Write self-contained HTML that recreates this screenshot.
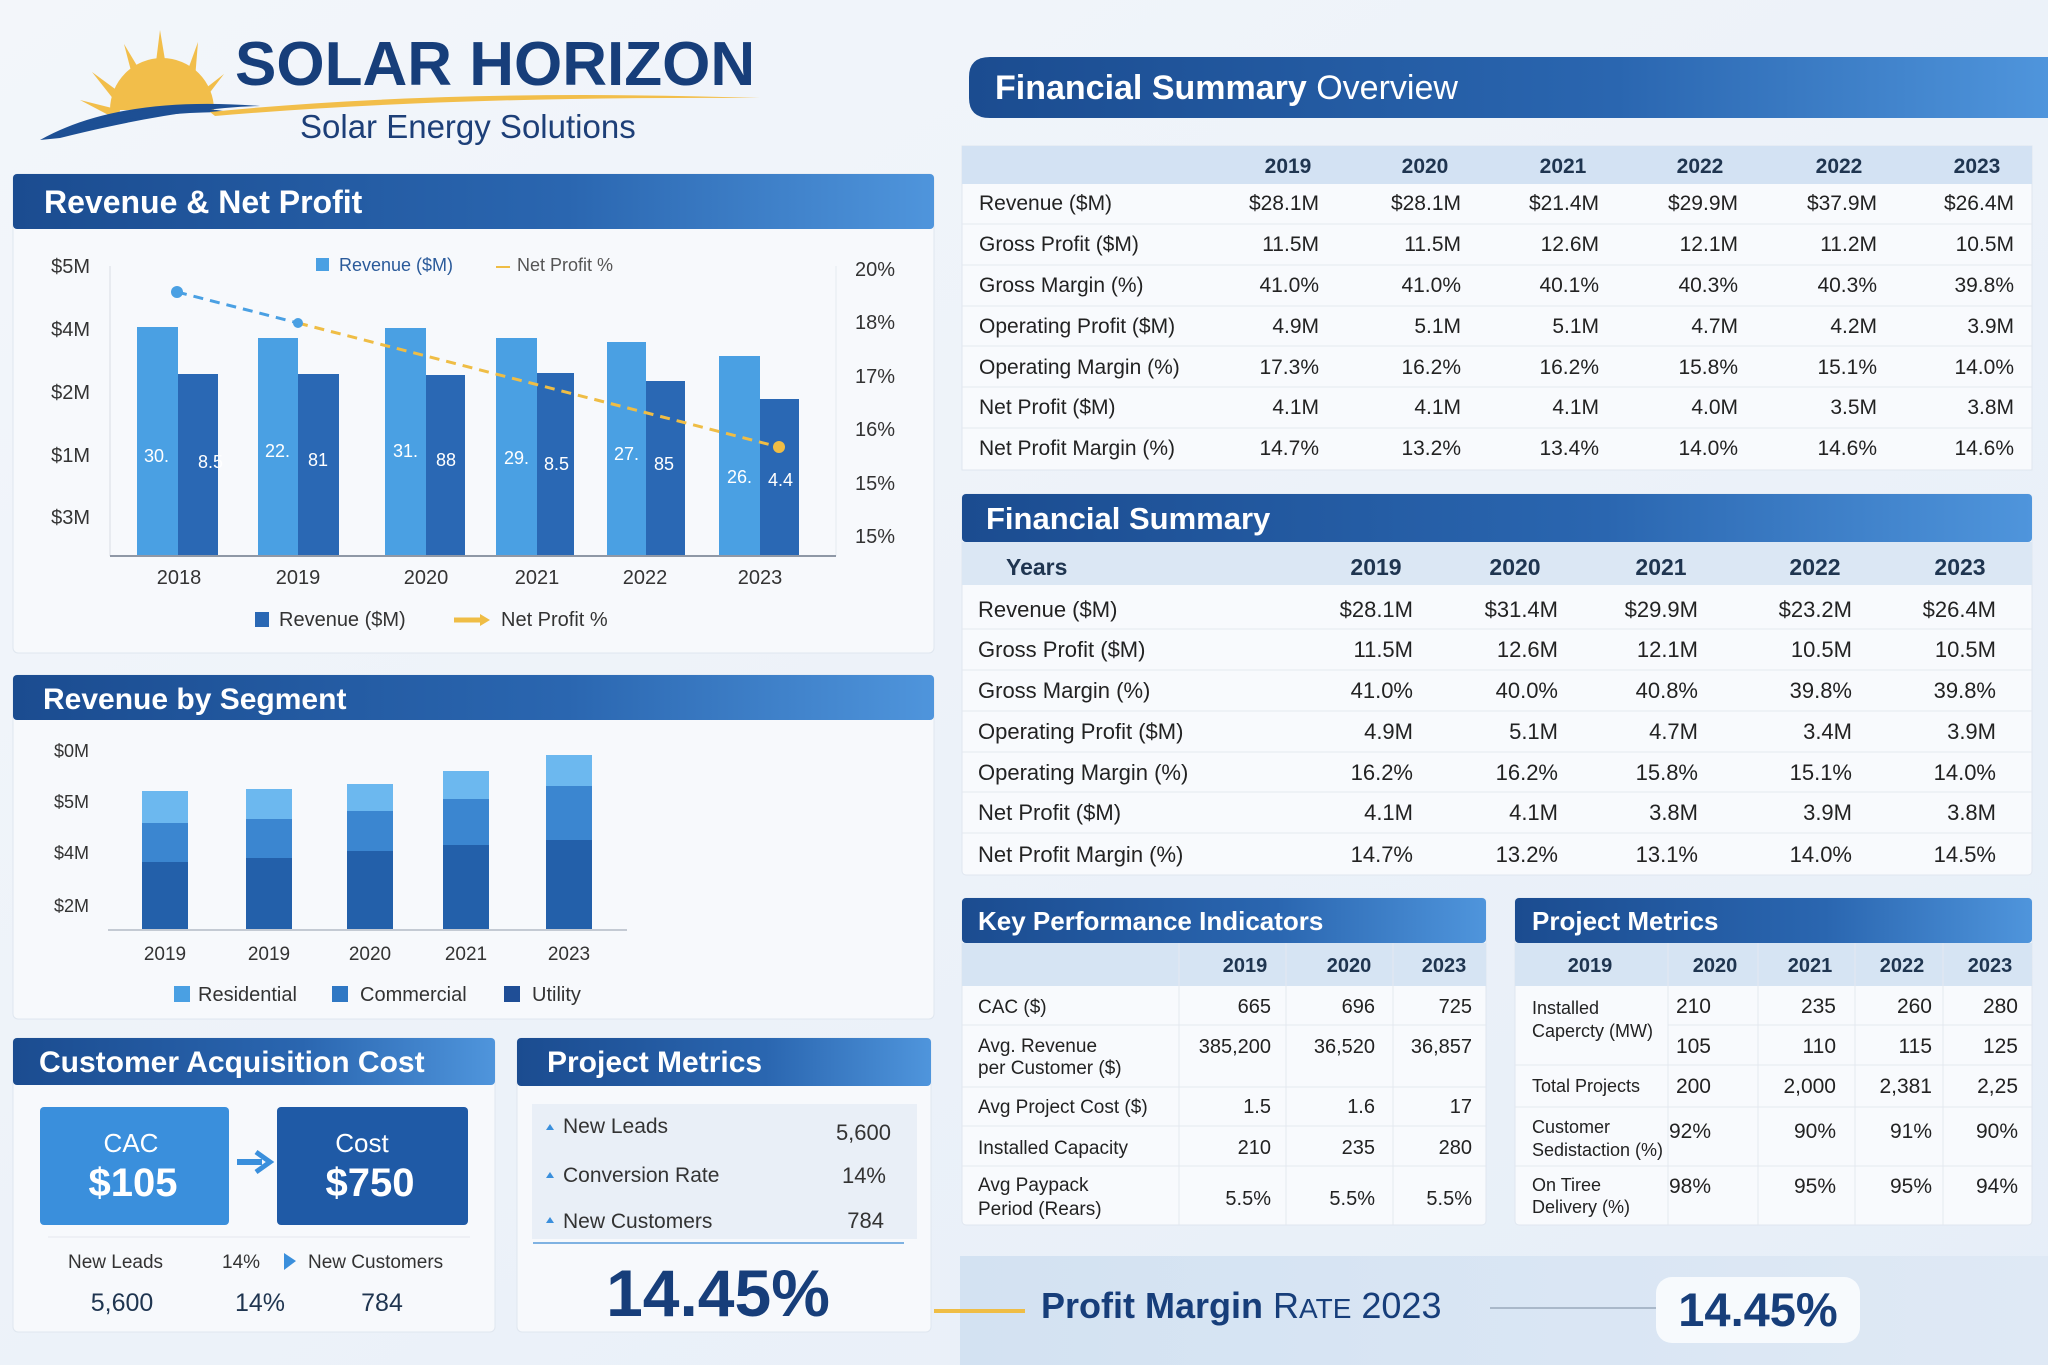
<!DOCTYPE html>
<html><head><meta charset="utf-8"><style>
html,body{margin:0;padding:0;background:#eef3f9;}
svg{display:block;font-family:"Liberation Sans",sans-serif;}
</style></head><body>
<svg width="2048" height="1365" viewBox="0 0 2048 1365" xmlns="http://www.w3.org/2000/svg">
<defs>
<linearGradient id="hg" x1="0" x2="1" y1="0" y2="0"><stop offset="0" stop-color="#1b4c90"/><stop offset="0.6" stop-color="#2a66b0"/><stop offset="1" stop-color="#4f95dc"/></linearGradient>
<linearGradient id="bg" x1="0" x2="1" y1="0" y2="1"><stop offset="0" stop-color="#f3f6fa"/><stop offset="1" stop-color="#e6eef8"/></linearGradient>
<linearGradient id="ban" x1="0" x2="1"><stop offset="0" stop-color="#d3e2f2"/><stop offset="1" stop-color="#dfe9f5"/></linearGradient>
</defs>
<rect width="2048" height="1365" fill="url(#bg)"/>

<!-- Logo -->
<g fill="#f2be4a">
<path d="M110 110 A52 52 0 0 1 214 110 Z"/>
<path d="M160 30 l8 48 l-14 0 Z"/><path d="M124 44 l24 40 l-12 6 Z"/><path d="M198 42 l-16 44 l12 5 Z"/>
<path d="M92 72 l38 28 l-8 10 Z"/><path d="M224 74 l-36 28 l7 10 Z"/><path d="M80 100 l40 10 l-2 10 Z"/>
</g>
<path d="M40 140 Q120 95 260 106 Q180 108 60 138 Z" fill="#1d4f94"/>
<path d="M90 122 Q160 100 230 112 Q160 112 100 124 Z" fill="#1d4f94"/>
<path d="M210 112 Q450 88 760 98 Q450 96 215 116 Z" fill="#f2be4a"/>
<text x="235" y="85" font-size="62" font-weight="bold" fill="#173e7a">SOLAR HORIZON</text>
<text x="300" y="138" font-size="33" fill="#1d3f78">Solar Energy Solutions</text>

<!-- Revenue & Net Profit panel -->
<rect x="13" y="174" width="921" height="479" rx="5" fill="#f7f9fc" stroke="#dfe6ef"/>
<rect x="13" y="174" width="921" height="55" rx="4" fill="url(#hg)"/>
<text x="44" y="213" font-size="32" font-weight="bold" fill="#fff">Revenue &amp; Net Profit</text>
<line x1="110" y1="266" x2="110" y2="556" stroke="#d8dde5"/>
<line x1="836" y1="266" x2="836" y2="556" stroke="#e6eaf0"/>
<g fill="#4aa0e3">
<rect x="137" y="327" width="41" height="229"/><rect x="258" y="338" width="40" height="218"/><rect x="385" y="328" width="41" height="228"/>
<rect x="496" y="338" width="41" height="218"/><rect x="607" y="342" width="39" height="214"/><rect x="719" y="356" width="41" height="200"/>
</g>
<g fill="#2a68b4">
<rect x="178" y="374" width="40" height="182"/><rect x="298" y="374" width="41" height="182"/><rect x="426" y="375" width="39" height="181"/>
<rect x="537" y="373" width="37" height="183"/><rect x="646" y="381" width="39" height="175"/><rect x="760" y="399" width="39" height="157"/>
</g>
<line x1="110" y1="556" x2="836" y2="556" stroke="#8f98a6" stroke-width="2"/>
<g font-size="18" fill="#fff">
<text x="144" y="462">30.</text><text x="198" y="468">8.5</text>
<text x="265" y="457">22.</text><text x="308" y="466">81</text>
<text x="393" y="457">31.</text><text x="436" y="466">88</text>
<text x="504" y="464">29.</text><text x="544" y="470">8.5</text>
<text x="614" y="460">27.</text><text x="654" y="470">85</text>
<text x="727" y="483">26.</text><text x="768" y="486">4.4</text>
</g>
<path d="M177 292 L298 323" stroke="#4aa0e3" stroke-width="3" stroke-dasharray="10 7"/>
<path d="M298 323 L779 447" stroke="#efbd45" stroke-width="3" stroke-dasharray="10 7"/>
<circle cx="177" cy="292" r="6" fill="#4aa0e3"/><circle cx="298" cy="323" r="5" fill="#4aa0e3"/><circle cx="779" cy="447" r="6" fill="#efbd45"/>
<g font-size="20" fill="#333" text-anchor="end">
<text x="90" y="273">$5M</text><text x="90" y="336">$4M</text><text x="90" y="399">$2M</text><text x="90" y="462">$1M</text><text x="90" y="524">$3M</text>
</g>
<g font-size="20" fill="#333">
<text x="855" y="276">20%</text><text x="855" y="329">18%</text><text x="855" y="383">17%</text><text x="855" y="436">16%</text><text x="855" y="490">15%</text><text x="855" y="543">15%</text>
</g>
<g font-size="20" fill="#333" text-anchor="middle">
<text x="179" y="584">2018</text><text x="298" y="584">2019</text><text x="426" y="584">2020</text><text x="537" y="584">2021</text><text x="645" y="584">2022</text><text x="760" y="584">2023</text>
</g>
<rect x="316" y="258" width="13" height="13" fill="#4aa0e3"/><text x="339" y="271" font-size="18" fill="#2a5a9a">Revenue ($M)</text>
<line x1="496" y1="267" x2="510" y2="267" stroke="#efbd45" stroke-width="2"/><text x="517" y="271" font-size="18" fill="#555">Net Profit %</text>
<rect x="255" y="612" width="14" height="15" fill="#2a68b4"/><text x="279" y="626" font-size="20" fill="#333">Revenue ($M)</text>
<path d="M454 620 L482 620" stroke="#efbd45" stroke-width="5"/><path d="M480 614 L490 620 L480 626 Z" fill="#efbd45"/>
<text x="501" y="626" font-size="20" fill="#333">Net Profit %</text>

<!-- Revenue by Segment -->
<rect x="13" y="675" width="921" height="344" rx="5" fill="#f7f9fc" stroke="#dfe6ef"/>
<rect x="13" y="675" width="921" height="45" rx="4" fill="url(#hg)"/>
<text x="43" y="709" font-size="30" font-weight="bold" fill="#fff">Revenue by Segment</text>
<g font-size="18" fill="#333" text-anchor="end">
<text x="89" y="757">$0M</text><text x="89" y="808">$5M</text><text x="89" y="859">$4M</text><text x="89" y="912">$2M</text>
</g>
<g>
<rect x="142" y="791" width="46" height="139" fill="#6cb8ef"/><rect x="142" y="823" width="46" height="107" fill="#3b86d0"/><rect x="142" y="862" width="46" height="68" fill="#2360aa"/>
<rect x="246" y="789" width="46" height="141" fill="#6cb8ef"/><rect x="246" y="819" width="46" height="111" fill="#3b86d0"/><rect x="246" y="858" width="46" height="72" fill="#2360aa"/>
<rect x="347" y="784" width="46" height="146" fill="#6cb8ef"/><rect x="347" y="811" width="46" height="119" fill="#3b86d0"/><rect x="347" y="851" width="46" height="79" fill="#2360aa"/>
<rect x="443" y="771" width="46" height="159" fill="#6cb8ef"/><rect x="443" y="799" width="46" height="131" fill="#3b86d0"/><rect x="443" y="845" width="46" height="85" fill="#2360aa"/>
<rect x="546" y="755" width="46" height="175" fill="#6cb8ef"/><rect x="546" y="786" width="46" height="144" fill="#3b86d0"/><rect x="546" y="840" width="46" height="90" fill="#2360aa"/>
</g>
<line x1="108" y1="930" x2="627" y2="930" stroke="#c4cad3" stroke-width="2"/>
<g font-size="19" fill="#333" text-anchor="middle">
<text x="165" y="960">2019</text><text x="269" y="960">2019</text><text x="370" y="960">2020</text><text x="466" y="960">2021</text><text x="569" y="960">2023</text>
</g>
<rect x="174" y="986" width="16" height="16" fill="#4aa0e3"/><text x="198" y="1001" font-size="20" fill="#333">Residential</text>
<rect x="332" y="986" width="16" height="16" fill="#2f78c4"/><text x="360" y="1001" font-size="20" fill="#333">Commercial</text>
<rect x="504" y="986" width="16" height="16" fill="#1f4e96"/><text x="532" y="1001" font-size="20" fill="#333">Utility</text>

<!-- CAC -->
<rect x="13" y="1038" width="482" height="294" rx="5" fill="#f7f9fc" stroke="#dfe6ef"/>
<rect x="13" y="1038" width="482" height="47" rx="4" fill="url(#hg)"/>
<text x="39" y="1072" font-size="30" font-weight="bold" fill="#fff">Customer Acquisition Cost</text>
<rect x="40" y="1107" width="189" height="118" rx="4" fill="#3a8fdc"/>
<rect x="277" y="1107" width="191" height="118" rx="4" fill="#1f5aa6"/>
<text x="131" y="1152" font-size="26" fill="#fff" text-anchor="middle">CAC</text>
<text x="133" y="1196" font-size="40" font-weight="bold" fill="#fff" text-anchor="middle">$105</text>
<text x="362" y="1152" font-size="26" fill="#fff" text-anchor="middle">Cost</text>
<text x="370" y="1196" font-size="40" font-weight="bold" fill="#fff" text-anchor="middle">$750</text>
<path d="M237 1162 L262 1162" stroke="#3a8fdc" stroke-width="6"/><path d="M256 1152 L270 1162 L256 1172" fill="none" stroke="#3a8fdc" stroke-width="5"/>
<line x1="48" y1="1237" x2="470" y2="1237" stroke="#e4e8ee"/>
<g font-size="19" fill="#333">
<text x="68" y="1268">New Leads</text><text x="222" y="1268">14%</text><text x="308" y="1268">New Customers</text>
</g>
<path d="M284 1253 L296 1261 L284 1270 Z" fill="#3a8fdc"/>
<g font-size="25" fill="#1f3550" text-anchor="middle">
<text x="122" y="1311">5,600</text><text x="260" y="1311">14%</text><text x="382" y="1311">784</text>
</g>

<!-- Project Metrics small -->
<rect x="517" y="1038" width="414" height="294" rx="5" fill="#f7f9fc" stroke="#dfe6ef"/>
<rect x="517" y="1038" width="414" height="48" rx="4" fill="url(#hg)"/>
<text x="547" y="1072" font-size="30" font-weight="bold" fill="#fff">Project Metrics</text>
<rect x="532" y="1104" width="385" height="135" fill="#e9eff7"/>
<line x1="533" y1="1243" x2="904" y2="1243" stroke="#7fb2e2" stroke-width="2"/>
<g fill="#3a8fdc"><path d="M546 1130 l4 -6 l4 6 Z"/><path d="M546 1178 l4 -6 l4 6 Z"/><path d="M546 1223 l4 -6 l4 6 Z"/></g>
<g font-size="21" fill="#333">
<text x="563" y="1133">New Leads</text><text x="563" y="1182">Conversion Rate</text><text x="563" y="1228">New Customers</text>
</g>
<g font-size="22" fill="#333" text-anchor="end">
<text x="891" y="1140">5,600</text><text x="886" y="1183">14%</text><text x="884" y="1228">784</text>
</g>
<text x="718" y="1316" font-size="66" font-weight="bold" fill="#173e7a" text-anchor="middle">14.45%</text>

<!-- Financial Summary Overview -->
<path d="M990 57 L2048 57 L2048 118 L990 118 Q969 118 969 98 L969 77 Q969 57 990 57 Z" fill="url(#hg)"/>
<text x="995" y="99" font-size="34" fill="#fff"><tspan font-weight="bold">Financial Summary</tspan> Overview</text>
<rect x="962" y="146" width="1070" height="324" fill="#f8fafd" stroke="#dfe6ef"/>
<rect x="962" y="146" width="1070" height="38" fill="#d3e2f3"/>
<g stroke="#e4e9f0">
<line x1="962" y1="224" x2="2032" y2="224"/><line x1="962" y1="265" x2="2032" y2="265"/><line x1="962" y1="306" x2="2032" y2="306"/>
<line x1="962" y1="346" x2="2032" y2="346"/><line x1="962" y1="387" x2="2032" y2="387"/><line x1="962" y1="428" x2="2032" y2="428"/>
</g>
<g font-size="21" font-weight="bold" fill="#1f3550" text-anchor="middle">
<text x="1288" y="173">2019</text><text x="1425" y="173">2020</text><text x="1563" y="173">2021</text><text x="1700" y="173">2022</text><text x="1839" y="173">2022</text><text x="1977" y="173">2023</text>
</g>
<g font-size="21" fill="#222">
<text x="979" y="210">Revenue ($M)</text><text x="979" y="251">Gross Profit ($M)</text><text x="979" y="292">Gross Margin (%)</text>
<text x="979" y="333">Operating Profit ($M)</text><text x="979" y="374">Operating Margin (%)</text><text x="979" y="414">Net Profit ($M)</text><text x="979" y="455">Net Profit Margin (%)</text>
</g>
<g font-size="21" fill="#222" text-anchor="end">
<text x="1319" y="210">$28.1M</text><text x="1461" y="210">$28.1M</text><text x="1599" y="210">$21.4M</text><text x="1738" y="210">$29.9M</text><text x="1877" y="210">$37.9M</text><text x="2014" y="210">$26.4M</text>
<text x="1319" y="251">11.5M</text><text x="1461" y="251">11.5M</text><text x="1599" y="251">12.6M</text><text x="1738" y="251">12.1M</text><text x="1877" y="251">11.2M</text><text x="2014" y="251">10.5M</text>
<text x="1319" y="292">41.0%</text><text x="1461" y="292">41.0%</text><text x="1599" y="292">40.1%</text><text x="1738" y="292">40.3%</text><text x="1877" y="292">40.3%</text><text x="2014" y="292">39.8%</text>
<text x="1319" y="333">4.9M</text><text x="1461" y="333">5.1M</text><text x="1599" y="333">5.1M</text><text x="1738" y="333">4.7M</text><text x="1877" y="333">4.2M</text><text x="2014" y="333">3.9M</text>
<text x="1319" y="374">17.3%</text><text x="1461" y="374">16.2%</text><text x="1599" y="374">16.2%</text><text x="1738" y="374">15.8%</text><text x="1877" y="374">15.1%</text><text x="2014" y="374">14.0%</text>
<text x="1319" y="414">4.1M</text><text x="1461" y="414">4.1M</text><text x="1599" y="414">4.1M</text><text x="1738" y="414">4.0M</text><text x="1877" y="414">3.5M</text><text x="2014" y="414">3.8M</text>
<text x="1319" y="455">14.7%</text><text x="1461" y="455">13.2%</text><text x="1599" y="455">13.4%</text><text x="1738" y="455">14.0%</text><text x="1877" y="455">14.6%</text><text x="2014" y="455">14.6%</text>
</g>

<!-- Financial Summary -->
<rect x="962" y="494" width="1070" height="381" rx="4" fill="#f8fafd" stroke="#dfe6ef"/>
<rect x="962" y="494" width="1070" height="48" rx="4" fill="url(#hg)"/>
<text x="986" y="529" font-size="31" font-weight="bold" fill="#fff">Financial Summary</text>
<rect x="962" y="542" width="1070" height="43" fill="#dbe7f4"/>
<g stroke="#e4e9f0">
<line x1="962" y1="629" x2="2032" y2="629"/><line x1="962" y1="670" x2="2032" y2="670"/><line x1="962" y1="711" x2="2032" y2="711"/>
<line x1="962" y1="752" x2="2032" y2="752"/><line x1="962" y1="792" x2="2032" y2="792"/><line x1="962" y1="833" x2="2032" y2="833"/>
</g>
<g font-size="23" font-weight="bold" fill="#1f3550">
<text x="1006" y="575">Years</text>
<g text-anchor="middle"><text x="1376" y="575">2019</text><text x="1515" y="575">2020</text><text x="1661" y="575">2021</text><text x="1815" y="575">2022</text><text x="1960" y="575">2023</text></g>
</g>
<g font-size="22" fill="#222">
<text x="978" y="617">Revenue ($M)</text><text x="978" y="657">Gross Profit ($M)</text><text x="978" y="698">Gross Margin (%)</text>
<text x="978" y="739">Operating Profit ($M)</text><text x="978" y="780">Operating Margin (%)</text><text x="978" y="820">Net Profit ($M)</text><text x="978" y="862">Net Profit Margin (%)</text>
</g>
<g font-size="22" fill="#222" text-anchor="end">
<text x="1413" y="617">$28.1M</text><text x="1558" y="617">$31.4M</text><text x="1698" y="617">$29.9M</text><text x="1852" y="617">$23.2M</text><text x="1996" y="617">$26.4M</text>
<text x="1413" y="657">11.5M</text><text x="1558" y="657">12.6M</text><text x="1698" y="657">12.1M</text><text x="1852" y="657">10.5M</text><text x="1996" y="657">10.5M</text>
<text x="1413" y="698">41.0%</text><text x="1558" y="698">40.0%</text><text x="1698" y="698">40.8%</text><text x="1852" y="698">39.8%</text><text x="1996" y="698">39.8%</text>
<text x="1413" y="739">4.9M</text><text x="1558" y="739">5.1M</text><text x="1698" y="739">4.7M</text><text x="1852" y="739">3.4M</text><text x="1996" y="739">3.9M</text>
<text x="1413" y="780">16.2%</text><text x="1558" y="780">16.2%</text><text x="1698" y="780">15.8%</text><text x="1852" y="780">15.1%</text><text x="1996" y="780">14.0%</text>
<text x="1413" y="820">4.1M</text><text x="1558" y="820">4.1M</text><text x="1698" y="820">3.8M</text><text x="1852" y="820">3.9M</text><text x="1996" y="820">3.8M</text>
<text x="1413" y="862">14.7%</text><text x="1558" y="862">13.2%</text><text x="1698" y="862">13.1%</text><text x="1852" y="862">14.0%</text><text x="1996" y="862">14.5%</text>
</g>

<!-- KPI -->
<rect x="962" y="898" width="524" height="327" rx="4" fill="#f8fafd" stroke="#dfe6ef"/>
<rect x="962" y="898" width="524" height="45" rx="4" fill="url(#hg)"/>
<text x="978" y="930" font-size="26" font-weight="bold" fill="#fff">Key Performance Indicators</text>
<rect x="962" y="943" width="524" height="43" fill="#d6e4f3"/>
<g stroke="#e4e9f0">
<line x1="962" y1="1025" x2="1486" y2="1025"/><line x1="962" y1="1087" x2="1486" y2="1087"/><line x1="962" y1="1126" x2="1486" y2="1126"/><line x1="962" y1="1166" x2="1486" y2="1166"/>
<line x1="1179" y1="943" x2="1179" y2="1225"/><line x1="1286" y1="943" x2="1286" y2="1225"/><line x1="1393" y1="943" x2="1393" y2="1225"/>
</g>
<g font-size="20" font-weight="bold" fill="#1f3550" text-anchor="middle"><text x="1245" y="972">2019</text><text x="1349" y="972">2020</text><text x="1444" y="972">2023</text></g>
<g font-size="19" fill="#222">
<text x="978" y="1013">CAC ($)</text><text x="978" y="1052">Avg. Revenue</text><text x="978" y="1074">per Customer ($)</text>
<text x="978" y="1113">Avg Project Cost ($)</text><text x="978" y="1154">Installed Capacity</text>
<text x="978" y="1191">Avg Paypack</text><text x="978" y="1215">Period (Rears)</text>
</g>
<g font-size="20" fill="#222" text-anchor="end">
<text x="1271" y="1013">665</text><text x="1375" y="1013">696</text><text x="1472" y="1013">725</text>
<text x="1271" y="1053">385,200</text><text x="1375" y="1053">36,520</text><text x="1472" y="1053">36,857</text>
<text x="1271" y="1113">1.5</text><text x="1375" y="1113">1.6</text><text x="1472" y="1113">17</text>
<text x="1271" y="1154">210</text><text x="1375" y="1154">235</text><text x="1472" y="1154">280</text>
<text x="1271" y="1205">5.5%</text><text x="1375" y="1205">5.5%</text><text x="1472" y="1205">5.5%</text>
</g>

<!-- Project Metrics table -->
<rect x="1515" y="898" width="517" height="327" rx="4" fill="#f8fafd" stroke="#dfe6ef"/>
<rect x="1515" y="898" width="517" height="45" rx="4" fill="url(#hg)"/>
<text x="1532" y="930" font-size="26" font-weight="bold" fill="#fff">Project Metrics</text>
<rect x="1515" y="943" width="517" height="43" fill="#d6e4f3"/>
<g stroke="#e4e9f0">
<line x1="1668" y1="1025" x2="2032" y2="1025"/><line x1="1515" y1="1065" x2="2032" y2="1065"/><line x1="1515" y1="1107" x2="2032" y2="1107"/><line x1="1515" y1="1166" x2="2032" y2="1166"/>
<line x1="1668" y1="943" x2="1668" y2="1225"/><line x1="1758" y1="943" x2="1758" y2="1225"/><line x1="1855" y1="943" x2="1855" y2="1225"/><line x1="1943" y1="943" x2="1943" y2="1225"/>
</g>
<g font-size="20" font-weight="bold" fill="#1f3550" text-anchor="middle"><text x="1590" y="972">2019</text><text x="1715" y="972">2020</text><text x="1810" y="972">2021</text><text x="1902" y="972">2022</text><text x="1990" y="972">2023</text></g>
<g font-size="18" fill="#222">
<text x="1532" y="1014">Installed</text><text x="1532" y="1037">Capercty (MW)</text><text x="1532" y="1092">Total Projects</text>
<text x="1532" y="1133">Customer</text><text x="1532" y="1156">Sedistaction (%)</text>
<text x="1532" y="1191">On Tiree</text><text x="1532" y="1213">Delivery (%)</text>
</g>
<g font-size="21" fill="#222" text-anchor="end">
<text x="1711" y="1013">210</text><text x="1836" y="1013">235</text><text x="1932" y="1013">260</text><text x="2018" y="1013">280</text>
<text x="1711" y="1053">105</text><text x="1836" y="1053">110</text><text x="1932" y="1053">115</text><text x="2018" y="1053">125</text>
<text x="1711" y="1093">200</text><text x="1836" y="1093">2,000</text><text x="1932" y="1093">2,381</text><text x="2018" y="1093">2,25</text>
<text x="1711" y="1138">92%</text><text x="1836" y="1138">90%</text><text x="1932" y="1138">91%</text><text x="2018" y="1138">90%</text>
<text x="1711" y="1193">98%</text><text x="1836" y="1193">95%</text><text x="1932" y="1193">95%</text><text x="2018" y="1193">94%</text>
</g>

<!-- Bottom banner -->
<rect x="960" y="1256" width="1088" height="109" fill="url(#ban)"/>
<line x1="934" y1="1311" x2="1025" y2="1311" stroke="#efbd45" stroke-width="4"/>
<text x="1041" y="1318" font-size="36" fill="#173e7a"><tspan font-weight="bold">Profit Margin</tspan> R<tspan font-size="28">ATE</tspan> 2023</text>
<line x1="1490" y1="1308" x2="1656" y2="1308" stroke="#a9b8c9" stroke-width="2"/>
<rect x="1656" y="1277" width="204" height="66" rx="16" fill="#f7fafd"/>
<text x="1758" y="1326" font-size="47" font-weight="bold" fill="#173e7a" text-anchor="middle">14.45%</text>
</svg>
</body></html>
